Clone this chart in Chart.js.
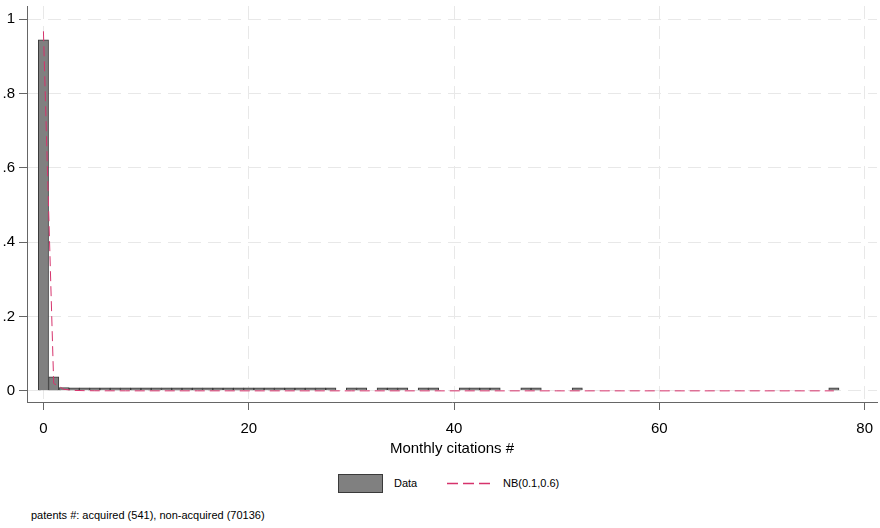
<!DOCTYPE html>
<html>
<head>
<meta charset="utf-8">
<script src="https://cdn.jsdelivr.net/npm/chart.js@4"></script>
<style>
  body { margin: 0; background: #fff; font-family: "Liberation Sans", Arial, sans-serif; }
  #wrap { position: relative; width: 880px; height: 528px; }
  #box { position: absolute; left: 0; top: 0; width: 880px; height: 460px; }
  .lg { position: absolute; font-size: 11px; color: #000; line-height: 14px; }
  #swBar { position: absolute; left: 338px; top: 474px; width: 43px; height: 17px; background: #808080; border: 1px solid #3a3a3a; }
  #swLine { position: absolute; left: 447px; top: 482px; }
  #note { position: absolute; left: 31px; top: 509px; font-size: 11px; color: #000; }
</style>
</head>
<body>
<div id="wrap">
  <div id="box"><canvas id="chart"></canvas></div>
  <div id="swBar"></div>
  <div class="lg" style="left:394px; top:476px;">Data</div>
  <svg id="swLine" width="46" height="3"><line x1="0" y1="1.5" x2="46" y2="1.5" stroke="rgb(214,51,108)" stroke-width="1.3" stroke-dasharray="11,5"/></svg>
  <div class="lg" style="left:503px; top:476px;">NB(0.1,0.6)</div>
  <div id="note">patents #: acquired (541), non-acquired (70136)</div>
</div>
<script>
// histogram bins (monthly citations) and their density
const barX = [0, 1, 2, 3, 4, 5, 6, 7, 8, 9, 10, 11, 12, 13, 14, 15, 16, 17, 18, 19, 20,
  21, 22, 23, 24, 25, 26, 27, 28, 30, 31, 33, 34, 35, 37, 38, 41, 42, 43, 44, 47, 48, 52, 77];
const barY = [0.944, 0.038, 0.009, 0.003, 0.0015, 0.001, 0.0007, 0.0005, 0.0004, 0.0003, 0.0003,
  0.0002, 0.0002, 0.0002, 0.0001, 0.0001, 0.0001, 0.0001, 0.0001, 0.0001, 0.0001,
  0.0001, 0.0001, 0.0001, 0.0001, 0.0001, 0.0001, 0.0001, 0.0001, 0.0001, 0.0001, 0.0001,
  0.0001, 0.0001, 0.0001, 0.0001, 0.0001, 0.0001, 0.0001, 0.0001, 0.0001, 0.0001, 0.0001, 0.0001];

// fitted negative binomial
const nbX = [0, 1, 2, 3, 4, 5, 6, 8, 10, 15, 20, 30, 40, 50, 60, 70, 77];
const nbY = [0.967, 0.02, 0.004, 0.0012, 0.0005, 0.0002, 0.0001, 0.00005, 0.00003, 0.00001, 0, 0, 0, 0, 0, 0, 0];

const xTicks = [0, 20, 40, 60, 80];
const yTicks = [0, 0.2, 0.4, 0.6, 0.8, 1];
const yTickLabels = ['0', '.2', '.4', '.6', '.8', '1'];

const gridCol = '#e8e8e8';
const axisCol = '#666666';

new Chart(document.getElementById('chart'), {
  type: 'bar',
  data: {
    datasets: [{
      type: 'line',
      label: 'NB(0.1,0.6)',
      data: nbX.map((x, i) => ({ x: x, y: nbY[i] })),
      borderColor: 'rgb(214,51,108)',
      borderWidth: 1,
      borderDash: [10, 5],
      pointRadius: 0,
      fill: false,
      tension: 0,
      order: 0
    }, {
      label: 'Data',
      data: barX.map((x, i) => ({ x: x, y: barY[i] })),
      backgroundColor: '#808080',
      borderColor: '#3a3a3a',
      borderWidth: 1,
      barPercentage: 1,
      categoryPercentage: 1,
      minBarLength: 3,
      order: 1
    }]
  },
  options: {
    responsive: true,
    maintainAspectRatio: false,
    animation: false,
    layout: { padding: { top: 6, right: 3, left: 0, bottom: 0 } },
    plugins: { legend: { display: false }, tooltip: { enabled: false } },
    scales: {
      x: {
        type: 'linear',
        min: -1.6,
        max: 81.2,
        offset: false,
        afterBuildTicks: s => { s.ticks = xTicks.map(v => ({ value: v })); },
        afterFit: s => { s.height = 58; s.paddingLeft = 0; s.paddingRight = 0; },
        grid: { offset: false, color: gridCol, tickColor: axisCol, tickLength: 8, tickBorderDash: [] },
        border: { display: true, color: axisCol, width: 1, dash: [13, 7] },
        ticks: { color: '#000', padding: 10, maxRotation: 0, font: { family: 'Liberation Sans', size: 15 } },
        title: { display: true, text: 'Monthly citations #', color: '#000', padding: { top: 4, bottom: 2 },
          font: { family: 'Liberation Sans', size: 15 } }
      },
      y: {
        type: 'linear',
        min: -0.03,
        max: 1.035,
        afterBuildTicks: s => { s.ticks = yTicks.map(v => ({ value: v })); },
        afterFit: s => { s.width = 27; s.paddingTop = 0; s.paddingBottom = 0; },
        grid: { color: gridCol, tickColor: axisCol, tickLength: 8, tickBorderDash: [] },
        border: { display: true, color: axisCol, width: 1, dash: [13, 7] },
        ticks: {
          color: '#000', padding: 4,
          font: { family: 'Liberation Sans', size: 15 },
          callback: v => yTickLabels[yTicks.indexOf(v)] ?? ''
        }
      }
    }
  }
});
</script>
</body>
</html>
